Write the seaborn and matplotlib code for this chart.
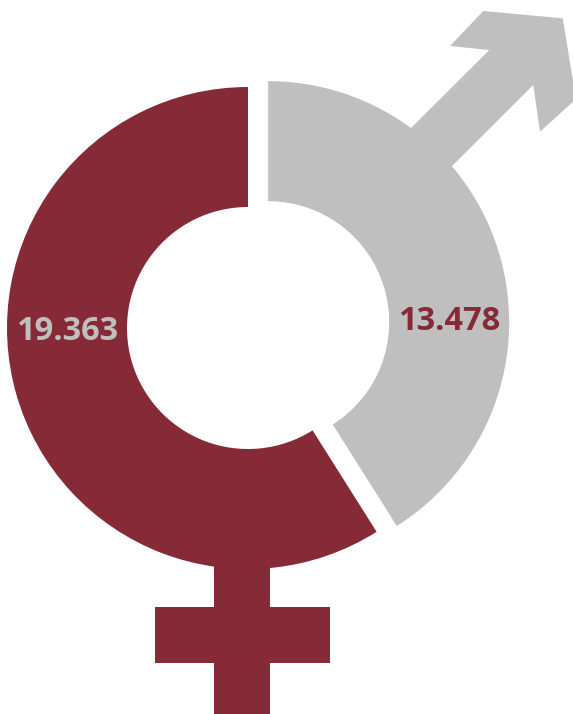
import matplotlib
matplotlib.use("Agg")
import matplotlib.pyplot as plt
import seaborn as sns
from matplotlib.patches import Rectangle, Polygon

sns.set_theme(style="white")
plt.rcParams['font.family'] = ['Open Sans', 'DejaVu Sans']

# ---- data ----
categories = ["Hombres", "Mujeres"]
values = [13.478, 19.363]
value_labels = ["13.478", "19.363"]

RED = "#862A38"
GRAY = "#BFBFBF"
colors = [GRAY, RED]
text_colors = [RED, GRAY]

W, H = 573, 714
fig = plt.figure(figsize=(W / 100, H / 100), dpi=100)
ax = fig.add_axes([0, 0, 1, 1])

def Y(p):
    return H - p

cx, cy = 248, Y(328)
R, ring = 241, 120

# female cross (drawn first, under ring)
ax.add_patch(Rectangle((214, Y(714) - 5), 56, Y(520) - Y(714) + 5, color=RED, lw=0, zorder=1))
ax.add_patch(Rectangle((155, Y(663)), 175, 56, color=RED, lw=0, zorder=1))

# male arrow
arrow_px = [(395, 144), (489.3, 50), (450, 46), (483.3, 11), (562.7, 18.3),
            (576, 99), (540, 131.7), (533.3, 85), (435, 183)]
ax.add_patch(Polygon([(x, Y(y)) for x, y in arrow_px], closed=True, color=GRAY, lw=0, zorder=1))

wedges, _ = ax.pie(values, colors=colors, startangle=90, counterclock=False,
                   center=(cx, cy), radius=R, explode=[21, 0],
                   wedgeprops=dict(width=ring, linewidth=0, zorder=2))

mid = R - ring / 2
for w, lab, tc, side in zip(wedges, value_labels, text_colors, [1, -1]):
    wx, wy = w.center
    ax.text(wx + side * mid, wy + 2 * side - 1, lab, ha="center", va="center",
            fontsize=23.5, fontweight="bold", color=tc, zorder=3)

ax.set_xlim(0, W)
ax.set_ylim(0, H)
ax.set_aspect("equal")
ax.axis("off")
fig.savefig("out.png", dpi=100, facecolor="white")
